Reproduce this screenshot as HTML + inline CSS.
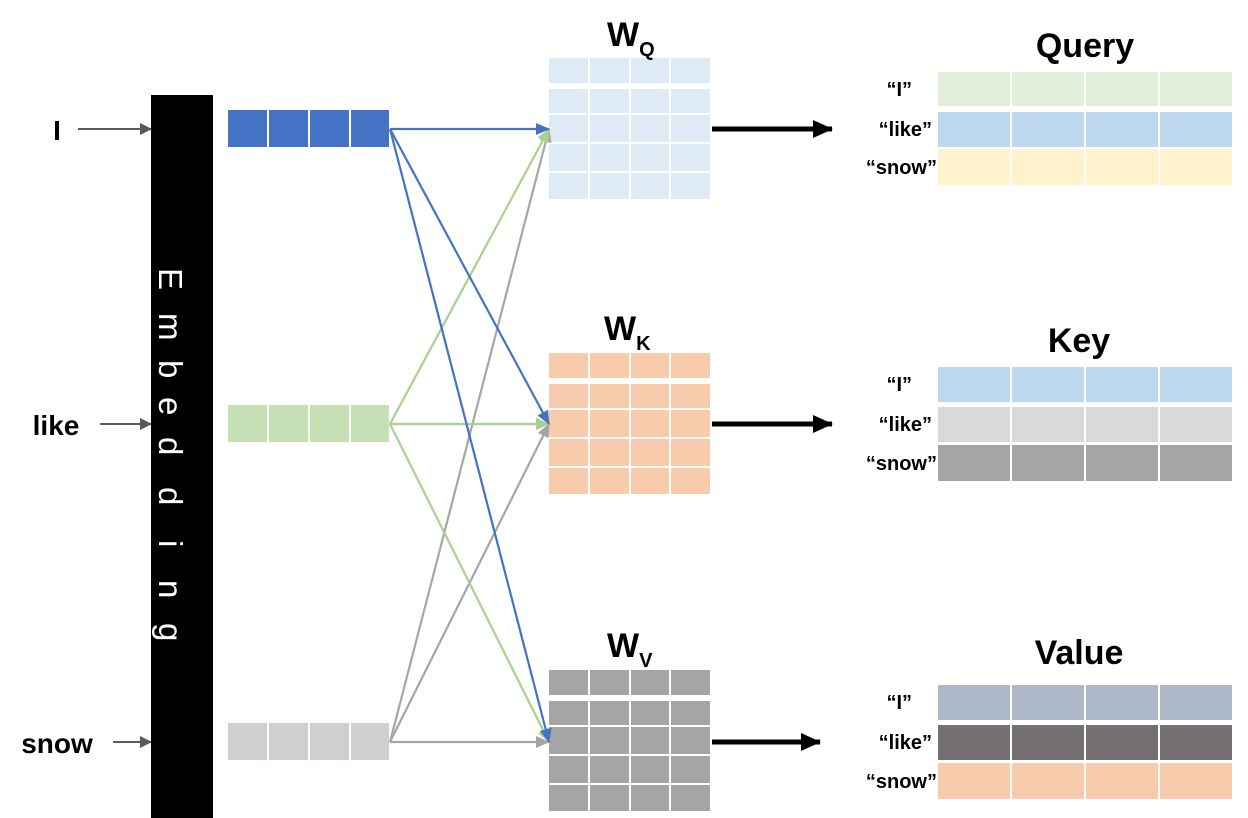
<!DOCTYPE html>
<html><head><meta charset="utf-8"><style>
html,body{margin:0;padding:0;background:#fff;}
svg{display:block;}
text{font-family:"Liberation Sans",sans-serif;font-weight:bold;}
</style></head><body>
<svg width="1248" height="818" viewBox="0 0 1248 818" xmlns="http://www.w3.org/2000/svg">
<defs>
<marker id="ab" markerWidth="14" markerHeight="12" refX="13" refY="6" orient="auto" markerUnits="userSpaceOnUse"><path d="M0,0 L14,6 L0,12 z" fill="#4472c4"/></marker>
<marker id="ag" markerWidth="14" markerHeight="12" refX="13" refY="6" orient="auto" markerUnits="userSpaceOnUse"><path d="M0,0 L14,6 L0,12 z" fill="#a9d18e"/></marker>
<marker id="ay" markerWidth="14" markerHeight="12" refX="13" refY="6" orient="auto" markerUnits="userSpaceOnUse"><path d="M0,0 L14,6 L0,12 z" fill="#a6a6a6"/></marker>
<marker id="ad" markerWidth="12" markerHeight="12" refX="11" refY="6" orient="auto" markerUnits="userSpaceOnUse"><path d="M0,0 L12,6 L0,12 z" fill="#595959"/></marker>
<marker id="ak" markerWidth="20" markerHeight="18" refX="19" refY="9" orient="auto" markerUnits="userSpaceOnUse"><path d="M0,0 L20,9 L0,18 z" fill="#000"/></marker>
</defs>

<text x="57" y="140" font-size="28" text-anchor="middle">I</text>
<text x="56" y="435" font-size="28" text-anchor="middle">like</text>
<text x="57" y="753" font-size="28" text-anchor="middle">snow</text>
<line x1="78" y1="129" x2="151" y2="129" stroke="#595959" stroke-width="2" marker-end="url(#ad)"/>
<line x1="100" y1="424" x2="151" y2="424" stroke="#595959" stroke-width="2" marker-end="url(#ad)"/>
<line x1="113" y1="742" x2="151" y2="742" stroke="#595959" stroke-width="2" marker-end="url(#ad)"/>

<rect x="151" y="95" width="62" height="723" fill="#000"/>
<text transform="rotate(90)" x="268 313 360 397 437 487 540 580 623" y="-159" style="font-weight:normal;font-size:33px" fill="#fff">Embedding</text>

<g fill="#4472c4"><rect x="228" y="110" width="39" height="37"/><rect x="269" y="110" width="39" height="37"/><rect x="310" y="110" width="39" height="37"/><rect x="351" y="110" width="38" height="37"/></g>
<g fill="#c5e0b4"><rect x="228" y="405" width="39" height="37"/><rect x="269" y="405" width="39" height="37"/><rect x="310" y="405" width="39" height="37"/><rect x="351" y="405" width="38" height="37"/></g>
<g fill="#d0cece"><rect x="228" y="723" width="39" height="37"/><rect x="269" y="723" width="39" height="37"/><rect x="310" y="723" width="39" height="37"/><rect x="351" y="723" width="38" height="37"/></g>

<g fill="#deebf7">
<rect x="549" y="58" width="39" height="25"/><rect x="590" y="58" width="39" height="25"/><rect x="631" y="58" width="38" height="25"/><rect x="671" y="58" width="39" height="25"/>
<rect x="549" y="89" width="39" height="24"/><rect x="590" y="89" width="39" height="24"/><rect x="631" y="89" width="38" height="24"/><rect x="671" y="89" width="39" height="24"/>
<rect x="549" y="115" width="39" height="27"/><rect x="590" y="115" width="39" height="27"/><rect x="631" y="115" width="38" height="27"/><rect x="671" y="115" width="39" height="27"/>
<rect x="549" y="144" width="39" height="27"/><rect x="590" y="144" width="39" height="27"/><rect x="631" y="144" width="38" height="27"/><rect x="671" y="144" width="39" height="27"/>
<rect x="549" y="173" width="39" height="26"/><rect x="590" y="173" width="39" height="26"/><rect x="631" y="173" width="38" height="26"/><rect x="671" y="173" width="39" height="26"/>
</g>
<g fill="#f8cbad" transform="translate(0,295)">
<rect x="549" y="58" width="39" height="25"/><rect x="590" y="58" width="39" height="25"/><rect x="631" y="58" width="38" height="25"/><rect x="671" y="58" width="39" height="25"/>
<rect x="549" y="89" width="39" height="24"/><rect x="590" y="89" width="39" height="24"/><rect x="631" y="89" width="38" height="24"/><rect x="671" y="89" width="39" height="24"/>
<rect x="549" y="115" width="39" height="27"/><rect x="590" y="115" width="39" height="27"/><rect x="631" y="115" width="38" height="27"/><rect x="671" y="115" width="39" height="27"/>
<rect x="549" y="144" width="39" height="27"/><rect x="590" y="144" width="39" height="27"/><rect x="631" y="144" width="38" height="27"/><rect x="671" y="144" width="39" height="27"/>
<rect x="549" y="173" width="39" height="26"/><rect x="590" y="173" width="39" height="26"/><rect x="631" y="173" width="38" height="26"/><rect x="671" y="173" width="39" height="26"/>
</g>
<g fill="#a5a5a5" transform="translate(0,612)">
<rect x="549" y="58" width="39" height="25"/><rect x="590" y="58" width="39" height="25"/><rect x="631" y="58" width="38" height="25"/><rect x="671" y="58" width="39" height="25"/>
<rect x="549" y="89" width="39" height="24"/><rect x="590" y="89" width="39" height="24"/><rect x="631" y="89" width="38" height="24"/><rect x="671" y="89" width="39" height="24"/>
<rect x="549" y="115" width="39" height="27"/><rect x="590" y="115" width="39" height="27"/><rect x="631" y="115" width="38" height="27"/><rect x="671" y="115" width="39" height="27"/>
<rect x="549" y="144" width="39" height="27"/><rect x="590" y="144" width="39" height="27"/><rect x="631" y="144" width="38" height="27"/><rect x="671" y="144" width="39" height="27"/>
<rect x="549" y="173" width="39" height="26"/><rect x="590" y="173" width="39" height="26"/><rect x="631" y="173" width="38" height="26"/><rect x="671" y="173" width="39" height="26"/>
</g>

<text x="607" y="46" font-size="34">W<tspan font-size="20" dy="10">Q</tspan></text>
<text x="604" y="340" font-size="34">W<tspan font-size="20" dy="10">K</tspan></text>
<text x="607" y="657" font-size="34">W<tspan font-size="20" dy="10">V</tspan></text>

<g stroke-width="2.2" fill="none">
<line x1="390" y1="742" x2="549" y2="129" stroke="#a6a6a6" marker-end="url(#ay)"/>
<line x1="390" y1="742" x2="549" y2="424" stroke="#a6a6a6" marker-end="url(#ay)"/>
<line x1="390" y1="742" x2="549" y2="742" stroke="#a6a6a6" marker-end="url(#ay)"/>
<line x1="390" y1="424" x2="549" y2="129" stroke="#a9d18e" marker-end="url(#ag)"/>
<line x1="390" y1="424" x2="549" y2="424" stroke="#a9d18e" marker-end="url(#ag)"/>
<line x1="390" y1="424" x2="549" y2="742" stroke="#a9d18e" marker-end="url(#ag)"/>
<line x1="390" y1="129" x2="549" y2="129" stroke="#4472c4" marker-end="url(#ab)"/>
<line x1="390" y1="129" x2="549" y2="424" stroke="#4472c4" marker-end="url(#ab)"/>
<line x1="390" y1="129" x2="549" y2="742" stroke="#4472c4" marker-end="url(#ab)"/>
</g>

<line x1="712" y1="129" x2="832" y2="129" stroke="#000" stroke-width="5" marker-end="url(#ak)"/>
<line x1="712" y1="424" x2="832" y2="424" stroke="#000" stroke-width="5" marker-end="url(#ak)"/>
<line x1="712" y1="742" x2="820" y2="742" stroke="#000" stroke-width="5" marker-end="url(#ak)"/>

<text x="1085" y="57" font-size="34" text-anchor="middle">Query</text>
<text x="1079" y="352" font-size="34" text-anchor="middle">Key</text>
<text x="1079" y="664" font-size="34" text-anchor="middle">Value</text>

<g font-size="20" text-anchor="end">
<text x="912" y="96">“I”</text><text x="932" y="136">“like”</text><text x="937" y="174">“snow”</text>
<text x="912" y="391">“I”</text><text x="932" y="431">“like”</text><text x="937" y="470">“snow”</text>
<text x="912" y="709">“I”</text><text x="932" y="749">“like”</text><text x="937" y="788">“snow”</text>
</g>

<g fill="#e2efda"><rect x="938" y="72" width="72" height="34"/><rect x="1012" y="72" width="72" height="34"/><rect x="1086" y="72" width="72" height="34"/><rect x="1160" y="72" width="72" height="34"/></g>
<g fill="#bdd7ee"><rect x="938" y="112" width="72" height="35"/><rect x="1012" y="112" width="72" height="35"/><rect x="1086" y="112" width="72" height="35"/><rect x="1160" y="112" width="72" height="35"/></g>
<g fill="#fff2cc"><rect x="938" y="149" width="72" height="36"/><rect x="1012" y="149" width="72" height="36"/><rect x="1086" y="149" width="72" height="36"/><rect x="1160" y="149" width="72" height="36"/></g>

<g fill="#bdd7ee"><rect x="938" y="367" width="72" height="35"/><rect x="1012" y="367" width="72" height="35"/><rect x="1086" y="367" width="72" height="35"/><rect x="1160" y="367" width="72" height="35"/></g>
<g fill="#d9d9d9"><rect x="938" y="407" width="72" height="35"/><rect x="1012" y="407" width="72" height="35"/><rect x="1086" y="407" width="72" height="35"/><rect x="1160" y="407" width="72" height="35"/></g>
<g fill="#a5a5a5"><rect x="938" y="445" width="72" height="36"/><rect x="1012" y="445" width="72" height="36"/><rect x="1086" y="445" width="72" height="36"/><rect x="1160" y="445" width="72" height="36"/></g>

<g fill="#adb9ca"><rect x="938" y="685" width="72" height="35"/><rect x="1012" y="685" width="72" height="35"/><rect x="1086" y="685" width="72" height="35"/><rect x="1160" y="685" width="72" height="35"/></g>
<g fill="#767171"><rect x="938" y="725" width="72" height="35"/><rect x="1012" y="725" width="72" height="35"/><rect x="1086" y="725" width="72" height="35"/><rect x="1160" y="725" width="72" height="35"/></g>
<g fill="#f8cbad"><rect x="938" y="763" width="72" height="36"/><rect x="1012" y="763" width="72" height="36"/><rect x="1086" y="763" width="72" height="36"/><rect x="1160" y="763" width="72" height="36"/></g>
</svg>
</body></html>
